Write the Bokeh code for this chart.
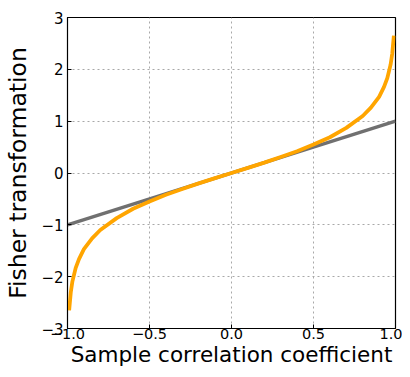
from bokeh.plotting import figure
from bokeh.models import FixedTicker, CustomJSTickFormatter, Range1d
from bokeh.embed import file_html
from bokeh.resources import INLINE

# Sample correlation coefficient (r) and Fisher transformation values
r_vals = [-0.99, -0.98, -0.97, -0.95, -0.93, -0.90, -0.85, -0.80, -0.70, -0.60,
          -0.50, -0.40, -0.30, -0.20, -0.10, 0.0, 0.10, 0.20, 0.30, 0.40,
          0.50, 0.60, 0.70, 0.80, 0.85, 0.90, 0.93, 0.95, 0.97, 0.98, 0.99]
fisher_vals = [-2.65, -2.30, -2.09, -1.83, -1.66, -1.47, -1.26, -1.10, -0.87, -0.69,
               -0.55, -0.42, -0.31, -0.20, -0.10, 0.0, 0.10, 0.20, 0.31, 0.42,
               0.55, 0.69, 0.87, 1.10, 1.26, 1.47, 1.66, 1.83, 2.09, 2.30, 2.65]
identity_x = [-1.0, 1.0]
identity_y = [-1.0, 1.0]
x_ticks = [-1.0, -0.5, 0.0, 0.5, 1.0]
y_ticks = [-3, -2, -1, 0, 1, 2, 3]

FONT = "DejaVu Sans"

p = figure(width=402, height=369, output_backend="svg", toolbar_location=None,
           x_range=Range1d(-1, 1), y_range=Range1d(-3, 3),
           min_border_left=67, min_border_right=7, min_border_top=17, min_border_bottom=41)
p.background_fill_color = "white"
p.border_fill_color = "white"
p.outline_line_color = "black"
p.outline_line_width = 1.2
p.outline_line_alpha = 1

p.line(identity_x, identity_y, line_color="#707070", line_width=3.5)
p.line(r_vals, fisher_vals, line_color="#FFA500", line_width=3.8)

fmt_x = CustomJSTickFormatter(code="return tick.toFixed(1).replace('-', '\u2212');")
fmt_y = CustomJSTickFormatter(code="return tick.toFixed(0).replace('-', '\u2212');")

p.xaxis.ticker = FixedTicker(ticks=x_ticks)
p.yaxis.ticker = FixedTicker(ticks=y_ticks)
p.xaxis.formatter = fmt_x
p.yaxis.formatter = fmt_y

for ax in (p.xaxis[0], p.yaxis[0]):
    ax.major_label_text_font = FONT
    ax.major_label_text_color = "black"
    ax.axis_label_text_font = FONT
    ax.axis_label_text_font_style = "normal"
    ax.axis_label_text_color = "black"
    ax.axis_line_color = "black"
    ax.major_tick_line_color = "black"
    ax.major_tick_in = 4
    ax.major_tick_out = 0
    ax.minor_tick_line_color = None

p.xaxis.major_label_text_font_size = "14.5px"
p.yaxis.major_label_text_font_size = "15px"
p.xaxis.axis_label = "Sample correlation coefficient"
p.yaxis.axis_label = "Fisher transformation"
p.xaxis.axis_label_text_font_size = "21.5px"
p.yaxis.axis_label_text_font_size = "23.5px"
p.xaxis.major_label_standoff = 0
p.yaxis.major_label_standoff = 4
p.xaxis.axis_label_standoff = 0
p.yaxis.axis_label_standoff = 6

p.grid.grid_line_color = "#a8a8a8"
p.grid.grid_line_dash = "2 3"
p.grid.grid_line_width = 1

open("out.html", "w").write(file_html(p, INLINE))
